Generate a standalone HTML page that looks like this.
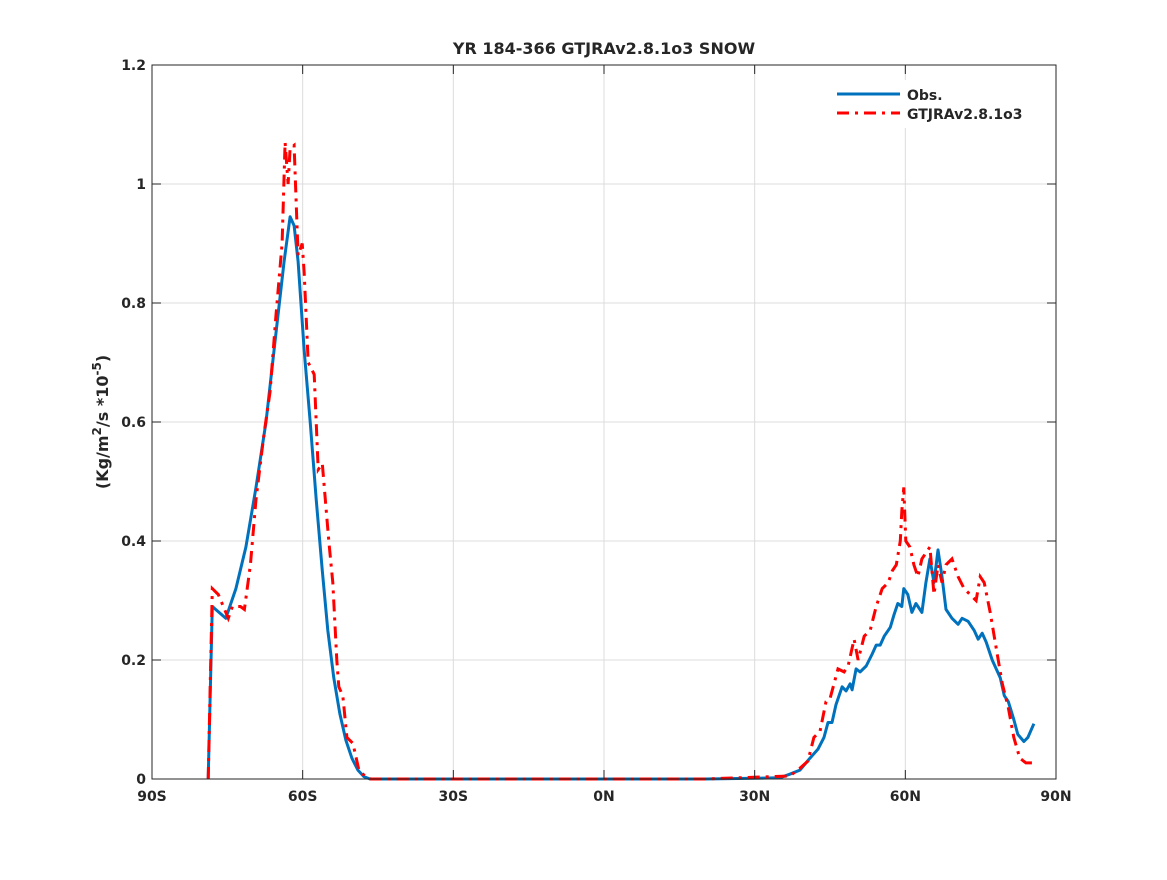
<!DOCTYPE html>
<html><head><meta charset="utf-8"><style>
body{margin:0;background:#fff;}
svg text{font-family:"DejaVu Sans","Liberation Sans",sans-serif;font-weight:bold;fill:#262626;}
</style></head><body>
<svg id="chart" width="1167" height="875" xmlns="http://www.w3.org/2000/svg">
<rect width="1167" height="875" fill="#fff"/>
<g id="grid"></g>
<g id="series"></g>
<rect x="152" y="65" width="904" height="714" fill="none" stroke="#262626" stroke-width="1"/>
<g id="ticks"></g>
<text x="604" y="54" text-anchor="middle" font-size="16">YR 184-366 GTJRAv2.8.1o3 SNOW</text>
<text transform="translate(108,422) rotate(-90)" text-anchor="middle" font-size="16">(Kg/m<tspan dy="-7" font-size="12">2</tspan><tspan dy="7">/s *10</tspan><tspan dy="-7" font-size="12">-5</tspan><tspan dy="7">)</tspan></text>
<g>
<rect x="832" y="80" width="214" height="48" fill="#fff"/>
<line x1="837" y1="94" x2="900" y2="94" stroke="#0072bd" stroke-width="3"/>
<line x1="837" y1="113" x2="900" y2="113" stroke="#ff0000" stroke-width="3" stroke-dasharray="12,6,3,6"/>
<text x="907" y="100" font-size="14">Obs.</text>
<text x="907" y="119" font-size="14">GTJRAv2.8.1o3</text>
</g>
</svg>
<script>
const xTickLabels=["90S","60S","30S","0N","30N","60N","90N"];
const xTickValues=[-90,-60,-30,0,30,60,90];
const yTickValues=[0,0.2,0.4,0.6,0.8,1,1.2];
const yTickLabels=["0","0.2","0.4","0.6","0.8","1","1.2"];
const obsLat=[-78.8,-78.0,-75.3,-73.3,-71.3,-69.3,-67.3,-65.3,-63.7,-62.5,-61.7,-60.9,-59.7,-58.5,-57.3,-56.1,-55.0,-53.8,-52.6,-51.4,-50.2,-49.0,-47.8,-46.6,20,35.0,37.0,39.0,41.0,42.6,43.8,44.6,45.4,46.2,47.4,48.2,49.0,49.4,50.2,51.0,52.2,53.4,54.2,55.0,55.8,57.0,57.7,58.5,59.3,59.7,60.5,61.3,62.1,62.9,63.3,64.1,64.9,65.7,66.5,67.3,68.1,69.3,70.5,71.3,72.5,73.7,74.5,75.3,76.1,77.3,78.9,79.7,80.5,81.6,82.4,83.6,84.4,85.6];
const obsVal=[0,0.29,0.27,0.32,0.39,0.49,0.6,0.75,0.87,0.945,0.93,0.87,0.72,0.6,0.47,0.35,0.25,0.17,0.11,0.065,0.035,0.015,0.004,0,0,0.002,0.008,0.015,0.035,0.05,0.07,0.095,0.095,0.125,0.155,0.148,0.16,0.15,0.185,0.18,0.19,0.21,0.225,0.225,0.24,0.255,0.275,0.295,0.29,0.32,0.31,0.28,0.295,0.285,0.28,0.33,0.37,0.33,0.385,0.34,0.285,0.27,0.26,0.27,0.265,0.25,0.235,0.245,0.23,0.2,0.17,0.14,0.13,0.1,0.075,0.063,0.07,0.093];
const modLat=[-78.8,-78.0,-76.8,-74.8,-74.0,-72.4,-71.6,-70.4,-69.3,-67.7,-66.5,-65.3,-64.1,-63.5,-62.9,-62.5,-61.7,-60.9,-60.1,-59.7,-58.9,-57.7,-56.9,-56.1,-54.8,-54.0,-53.2,-52.8,-52.0,-51.2,-50.0,-48.8,-47.6,-46.4,20,37.0,39.0,40.6,41.8,43.0,44.2,45.0,45.8,46.6,47.8,48.6,49.8,50.6,51.8,53.0,54.2,55.4,56.6,57.4,58.2,59.0,59.3,59.7,60.1,60.9,61.7,62.5,63.3,64.1,64.9,65.7,66.5,67.3,68.1,69.3,70.5,71.7,72.9,74.1,74.9,75.7,76.9,78.1,79.3,80.5,81.6,82.8,84.0,85.6];
const modVal=[0,0.32,0.31,0.27,0.29,0.29,0.285,0.36,0.47,0.58,0.65,0.78,0.9,1.07,1.0,1.06,1.065,0.88,0.9,0.85,0.7,0.68,0.52,0.53,0.4,0.33,0.2,0.155,0.14,0.07,0.06,0.015,0.005,0,0,0.005,0.018,0.03,0.07,0.08,0.13,0.135,0.16,0.185,0.18,0.19,0.235,0.2,0.24,0.25,0.29,0.32,0.33,0.35,0.36,0.4,0.45,0.49,0.4,0.39,0.36,0.34,0.37,0.38,0.39,0.31,0.36,0.33,0.36,0.37,0.34,0.32,0.31,0.3,0.34,0.33,0.28,0.22,0.16,0.12,0.07,0.035,0.027,0.027];

const X0=152,X1=1056,Y0=779,Y1=65;
const xs=v=>X0+(v+90)/180*(X1-X0);
const ys=v=>Y0-v/1.2*(Y0-Y1);
const NS="http://www.w3.org/2000/svg";
const grid=document.getElementById('grid'),ticks=document.getElementById('ticks'),series=document.getElementById('series');
function mk(tag,attrs,parent){const e=document.createElementNS(NS,tag);for(const k in attrs)e.setAttribute(k,attrs[k]);parent.appendChild(e);return e;}
xTickValues.forEach((v,i)=>{
  const x=xs(v);
  const g=mk('line',{x1:x,x2:x,y1:Y1,y2:Y0,stroke:'#dcdcdc','stroke-width':1},grid);
  
  
  mk('line',{x1:x,x2:x,y1:Y0,y2:Y0-9,stroke:'#262626'},ticks);
  mk('line',{x1:x,x2:x,y1:Y1,y2:Y1+9,stroke:'#262626'},ticks);
  const t=mk('text',{x:x,y:Y0+22,'text-anchor':'middle','font-size':14},ticks);
  t.textContent=xTickLabels[i];
  
  
});
yTickValues.forEach((v,i)=>{
  const y=ys(v);
  const g=mk('line',{x1:X0,x2:X1,y1:y,y2:y,stroke:'#dcdcdc','stroke-width':1},grid);
  
  
  mk('line',{x1:X0,x2:X0+9,y1:y,y2:y,stroke:'#262626'},ticks);
  mk('line',{x1:X1,x2:X1-9,y1:y,y2:y,stroke:'#262626'},ticks);
  const t=mk('text',{x:X0-6,y:y+5,'text-anchor':'end','font-size':14},ticks);
  t.textContent=yTickLabels[i];
  
  
});
function pts(la,va){return la.map((l,i)=>xs(l).toFixed(1)+','+ys(va[i]).toFixed(1)).join(' ');}
const ob=mk('polyline',{points:pts(obsLat,obsVal),fill:'none',stroke:'#0072bd','stroke-width':3,'stroke-linejoin':'round'},series);


const md=mk('polyline',{points:pts(modLat,modVal),fill:'none',stroke:'#ff0000','stroke-width':3,'stroke-dasharray':'12,6,3,6'},series);


</script>
</body></html>
